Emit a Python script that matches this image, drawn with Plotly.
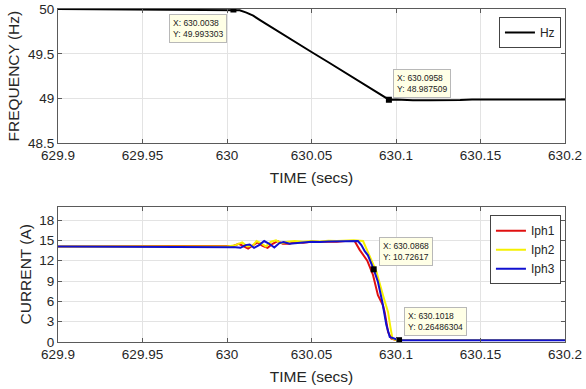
import plotly.graph_objects as go
from plotly.subplots import make_subplots

# ---------------- data ----------------
freq_t = [629.9, 630.0038, 630.0075, 630.0115, 630.0155, 630.020, 630.030, 630.040,
          630.050, 630.060, 630.070, 630.080, 630.090, 630.0958,
          630.100, 630.105, 630.110, 630.120, 630.130, 630.138, 630.145, 630.2]
freq_v = [50.0, 49.9933, 49.985, 49.96, 49.925, 49.87, 49.75, 49.635,
          49.52, 49.405, 49.29, 49.17, 49.055, 48.9875,
          48.99, 48.985, 48.98, 48.982, 48.979, 48.985, 48.99, 48.99]

i1_t = [629.9, 630.000, 630.004, 630.007, 630.010, 630.0125, 630.0155, 630.018, 630.021,
        630.024, 630.027, 630.030, 630.033, 630.037, 630.040, 630.045, 630.050, 630.055,
        630.060, 630.065, 630.070, 630.0755, 630.0785, 630.0805, 630.083, 630.0864,
        630.0893, 630.0923, 630.0933, 630.0953, 630.0973, 630.100, 630.2]
i1_v = [14.1, 14.1, 14.2, 14.5, 14.1, 13.8, 14.3, 14.7, 14.2,
        13.9, 14.5, 14.9, 14.5, 14.5, 14.75, 14.65, 14.8, 14.75,
        14.85, 14.8, 14.9, 14.9, 13.6, 12.8, 12.0, 9.9,
        6.9, 5.4, 4.4, 1.5, 0.5, 0.3, 0.3]

i2_t = [629.9, 630.000, 630.005, 630.009, 630.012, 630.015, 630.0175, 630.020, 630.023,
        630.026, 630.029, 630.032, 630.036, 630.040, 630.045, 630.050, 630.055, 630.060,
        630.065, 630.070, 630.075, 630.0805, 630.0844, 630.0884, 630.0923, 630.0953,
        630.0967, 630.0979, 630.100, 630.2]
i2_v = [14.1, 14.1, 14.3, 14.7, 14.1, 14.2, 14.9, 14.6, 14.1,
        14.8, 15.0, 14.6, 14.8, 14.9, 14.8, 14.9, 14.85, 14.95,
        14.9, 14.95, 15.0, 14.9, 12.8, 10.4, 6.9, 4.4,
        2.2, 0.5, 0.3, 0.3]

i3_t = [629.9, 630.000, 630.005, 630.008, 630.011, 630.0134, 630.016, 630.019, 630.022,
        630.025, 630.028, 630.031, 630.0335, 630.037, 630.040, 630.045, 630.050, 630.055,
        630.060, 630.065, 630.070, 630.0775, 630.0795, 630.0815, 630.0834, 630.0868,
        630.0893, 630.0919, 630.0943, 630.0963, 630.1018, 630.2]
i3_v = [14.1, 14.1, 14.0, 13.9, 14.3, 14.4, 13.9, 14.3, 14.9,
        14.5, 13.95, 14.6, 14.75, 14.5, 14.6, 14.7, 14.8, 14.75,
        14.85, 14.85, 14.9, 14.9, 14.3, 13.4, 12.8, 10.72617,
        8.9, 5.9, 2.5, 0.74, 0.26486304, 0.26]

tips_f_t = [630.0038, 630.0958]
tips_f_v = [49.993303, 48.987509]
tips_i_t = [630.0868, 630.1018]
tips_i_v = [10.72617, 0.26486304]

x_ticks = [629.9, 629.95, 630, 630.05, 630.1, 630.15, 630.2]
x_labels = ["629.9", "629.95", "630", "630.05", "630.1", "630.15", "630.2"]
f_ticks = [48.5, 49, 49.5, 50]
f_labels = ["48.5", "49", "49.5", "50"]
i_ticks = [0, 3, 6, 9, 12, 15, 18]

# ---------------- figure ----------------
FONT = "Liberation Sans, Arial"
fig = make_subplots(rows=2, cols=1, vertical_spacing=0.19)

fig.add_trace(go.Scatter(x=freq_t, y=freq_v, mode="lines", name="Hz",
                         line=dict(color="black", width=2), legend="legend"), row=1, col=1)
fig.add_trace(go.Scatter(x=tips_f_t, y=tips_f_v, mode="markers", showlegend=False,
                         marker=dict(symbol="square", size=6, color="black")), row=1, col=1)

fig.add_trace(go.Scatter(x=i1_t, y=i1_v, mode="lines", name="Iph1",
                         line=dict(color="#e01010", width=2), legend="legend2"), row=2, col=1)
fig.add_trace(go.Scatter(x=i2_t, y=i2_v, mode="lines", name="Iph2",
                         line=dict(color="#f5f000", width=2), legend="legend2"), row=2, col=1)
fig.add_trace(go.Scatter(x=i3_t, y=i3_v, mode="lines", name="Iph3",
                         line=dict(color="#1010d0", width=2), legend="legend2"), row=2, col=1)
fig.add_trace(go.Scatter(x=tips_i_t, y=tips_i_v, mode="markers", showlegend=False,
                         marker=dict(symbol="square", size=6, color="black")), row=2, col=1)

axis_common = dict(showgrid=True, gridcolor="#e3e3e3", gridwidth=1,
                   showline=True, linecolor="#5a5a5a", linewidth=1, mirror="allticks",
                   ticks="inside", ticklen=4, tickcolor="#5a5a5a",
                   tickfont=dict(family=FONT, size=13.5, color="#262626"),
                   zeroline=False, automargin=False)
title_font = dict(family=FONT, size=15.5, color="#262626")

for r in (1, 2):
    fig.update_xaxes(range=[629.9, 630.2], tickvals=x_ticks, ticktext=x_labels,
                     title=dict(text="TIME (secs)", standoff=9, font=title_font),
                     row=r, col=1, **axis_common)

fig.update_yaxes(range=[48.5, 50], tickvals=f_ticks, ticktext=f_labels,
                 title=dict(text="FREQUENCY (Hz)", standoff=4, font=title_font),
                 row=1, col=1, **axis_common)
fig.update_yaxes(range=[0, 20], tickvals=i_ticks,
                 title=dict(text="CURRENT (A)", standoff=3, font=title_font),
                 row=2, col=1, **axis_common)

legend_common = dict(xanchor="right", yanchor="top",
                     bgcolor="white", bordercolor="#444", borderwidth=1,
                     font=dict(family=FONT, size=12, color="#262626"),
                     itemwidth=30, tracegroupgap=0)
fig.update_layout(
    width=586, height=389,
    margin=dict(l=58, r=21, t=9, b=47),
    paper_bgcolor="white", plot_bgcolor="white",
    xaxis=dict(domain=[0, 1]), xaxis2=dict(domain=[0, 1]),
    yaxis=dict(domain=[0.5967, 1.0]), yaxis2=dict(domain=[0.0, 0.4069]),
    legend=dict(x=0.992, y=0.976, **legend_common),
    legend2=dict(x=0.992, y=0.381, **legend_common),
    showlegend=True,
)

tip_style = dict(showarrow=False, xanchor="left", yanchor="top", align="left",
                 bgcolor="#ffffe6", bordercolor="#b8b8b8", borderwidth=1, borderpad=3,
                 font=dict(family=FONT, size=8.5, color="#222"))

fig.add_annotation(x=tips_f_t[0], y=tips_f_v[0], xref="x", yref="y",
                   text=f"X: {tips_f_t[0]}<br>Y: {tips_f_v[0]}", xshift=-64, yshift=-4, **tip_style)
fig.add_annotation(x=tips_f_t[1], y=tips_f_v[1], xref="x", yref="y",
                   text=f"X: {tips_f_t[1]}<br>Y: {tips_f_v[1]}", xshift=4, yshift=31, **tip_style)
fig.add_annotation(x=tips_i_t[0], y=tips_i_v[0], xref="x2", yref="y2",
                   text=f"X: {tips_i_t[0]}<br>Y: {tips_i_v[0]}", xshift=5, yshift=32, **tip_style)
fig.add_annotation(x=tips_i_t[1], y=tips_i_v[1], xref="x2", yref="y2",
                   text=f"X: {tips_i_t[1]}<br>Y: {tips_i_v[1]}", xshift=5, yshift=33, **tip_style)

fig.write_html("out.html")
